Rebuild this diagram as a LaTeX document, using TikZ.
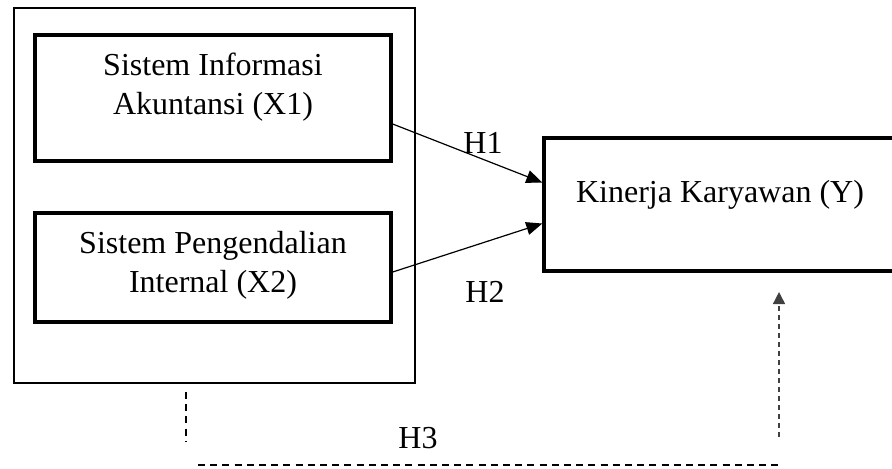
\documentclass[tikz,border=0pt]{standalone}
\usepackage{fontspec}
\setmainfont{Liberation Serif}
\usetikzlibrary{arrows.meta, positioning, calc}

\begin{document}
\begin{tikzpicture}[x=0.5pt, y=-0.5pt,
        box/.style={rectangle, draw, line width=1.7pt, inner sep=0pt},
        txt/.style={inner sep=0pt, align=center, font=\fontsize{16}{19.4}\selectfont},
        arrow/.style={-{Triangle[length=8pt, width=6.5pt]}, line width=0.6pt},
        hdash/.style={line width=0.9pt, dash pattern=on 3.5pt off 2.6pt}
    ]
    \useasboundingbox (0,0) rectangle (892,468);

    % Boxes
    \node[box, line width=1pt, minimum width=200.5pt, minimum height=187.5pt] (group) at (214.5,195.5) {};
    \node[box, minimum width=178pt, minimum height=63pt] (x1box) at (213,98) {};
    \node[box, minimum width=178pt, minimum height=54.5pt] (x2box) at (213,267.5) {};
    \node[box, minimum width=178pt, minimum height=66.5pt] (ybox) at (722,204.5) {};

    \node[txt] (x1text) at (213,87) {Sistem Informasi\\Akuntansi (X1)};
    \node[txt] (x2text) at (213,265) {Sistem Pengendalian\\Internal (X2)};
    \node[txt] (ytext) at (720,195) {Kinerja Karyawan (Y)};

    % Hypotheses
    \draw[arrow] ($(x1box.east)+(0,26)$) -- ($(ybox.west)+(0,-22)$);
    \draw[arrow] ($(x2box.east)+(0,4.5)$) -- ($(ybox.west)+(0,19)$);

    \coordinate (h3top) at (186,392);
    \coordinate (h3bot) at (186,442);
    \coordinate (h3left) at (198,465);
    \coordinate (h3right) at (780,465);
    \coordinate (h3up) at (779,437);
    \coordinate (h3tip) at (779,292);
    \draw[hdash] (h3top) -- (h3bot);
    \draw[hdash] (h3left) -- (h3right);
    \draw[-{Triangle[length=6pt, width=6pt]}, line width=0.7pt, black!75, dash pattern=on 2.5pt off 2pt] (h3up) -- (h3tip);

    % Labels
    \node[txt] (h1) at (483,143) {H1};
    \node[txt] (h2) at (485,292) {H2};
    \node[txt] (h3) at (418,438) {H3};
\end{tikzpicture}
\end{document}
